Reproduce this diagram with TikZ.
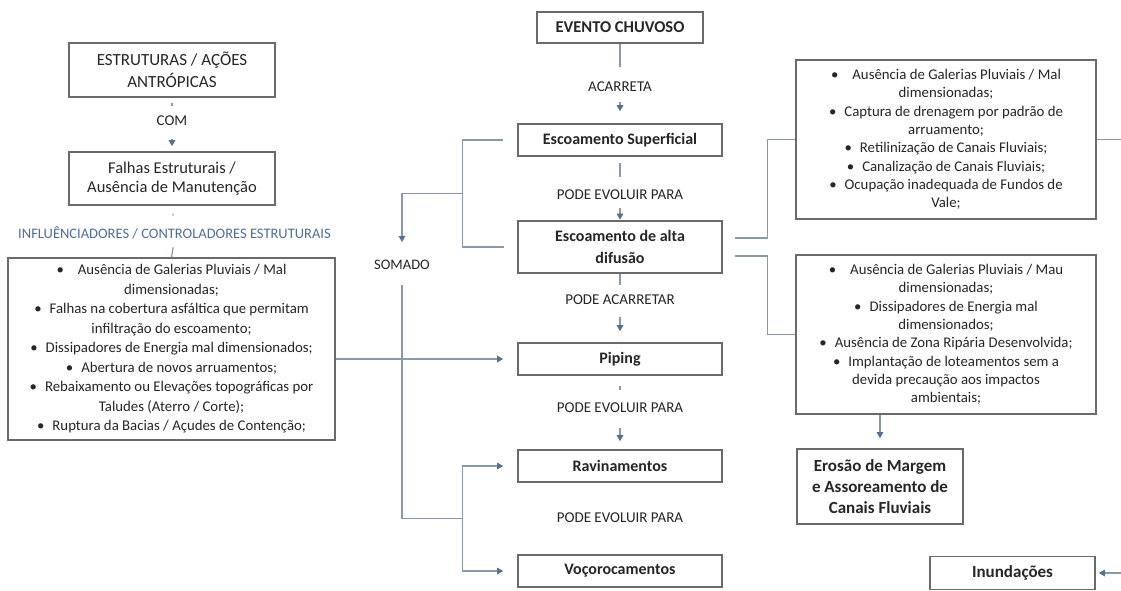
\documentclass[tikz,border=0pt]{standalone}
\usepackage{fontspec}
\setmainfont{Carlito}
\usetikzlibrary{calc,arrows.meta}
\definecolor{bordc}{HTML}{6A6A6A}
\definecolor{linec}{HTML}{8A99AA}
\definecolor{arrc}{HTML}{55718F}
\definecolor{txtc}{HTML}{262626}
\definecolor{bluec}{HTML}{4F6E9C}
\begin{document}
\begin{tikzpicture}[x=1pt,y=-1pt,
  box/.style={draw=bordc, line width=1.6pt, fill=white, inner sep=0pt, align=center, text=txtc},
  centerbox/.style={box, minimum width=204pt, minimum height=32pt, font=\fontsize{16}{22}\selectfont\bfseries},
  listbox/.style={box, minimum width=300pt, minimum height=159pt, font=\fontsize{14.8}{18.3}\selectfont},
  lab/.style={font=\fontsize{15}{17}\selectfont, text=txtc, inner sep=0pt},
  conn/.style={draw=linec, line width=1.2pt},
  arr/.style={conn, -{Triangle[length=6pt,width=6.5pt,color=arrc]}},
  barr/.style={conn, {Triangle[length=6pt,width=6.5pt,color=arrc]}-{Triangle[length=6pt,width=6.5pt,color=arrc]}},
]
\useasboundingbox[fill=white] (0,0) rectangle (1121,590);

% left column
\node[box, minimum width=206pt, minimum height=54pt, font=\fontsize{17}{22}\selectfont] (estr) at (172,70) {ESTRUTURAS / AÇÕES\\ANTRÓPICAS};
\node[box, minimum width=206pt, minimum height=53pt, font=\fontsize{16.5}{19}\selectfont] (falhas) at (172,178.5) {Falhas Estruturais /\\Ausência de Manutenção};
\node[lab] (com) at (172,121) {COM};
\node[lab, font=\fontsize{14.5}{17}\selectfont, text=bluec] (infl) at (174.5,233) {INFLUÊNCIADORES / CONTROLADORES ESTRUTURAIS};
\node[box, minimum width=327pt, minimum height=182pt, font=\fontsize{14.8}{19.5}\selectfont] (ll) at (171.5,349) {%
\textbullet\hspace{14pt}Ausência de Galerias Pluviais / Mal\\
dimensionadas;\\
\textbullet\hspace{8pt}Falhas na cobertura asfáltica que permitam\\
infiltração do escoamento;\\
\textbullet\hspace{8pt}Dissipadores de Energia mal dimensionados;\\
\textbullet\hspace{8pt}Abertura de novos arruamentos;\\
\textbullet\hspace{8pt}Rebaixamento ou Elevações topográficas por\\
Taludes (Aterro / Corte);\\
\textbullet\hspace{8pt}Ruptura da Bacias / Açudes de Contenção;};

% center column
\node[centerbox, minimum width=166pt, minimum height=31pt, font=\fontsize{16.5}{20}\selectfont\bfseries] (ev) at (620,27.5) {EVENTO CHUVOSO};
\node[centerbox] (es) at (620,140) {Escoamento Superficial};
\node[centerbox, minimum height=52pt] (ead) at (620,247) {Escoamento de alta\\difusão};
\node[centerbox] (pip) at (620,359) {Piping};
\node[centerbox] (rav) at (620,466) {Ravinamentos};
\node[centerbox] (voc) at (620,571) {Voçorocamentos};
\node[lab] (acar) at (620,87) {ACARRETA};
\node[lab] (pev1) at (620,195) {PODE EVOLUIR PARA};
\node[lab] (pac) at (620,300) {PODE ACARRETAR};
\node[lab] (pev2) at (620,408) {PODE EVOLUIR PARA};
\node[lab] (pev3) at (620,518) {PODE EVOLUIR PARA};
\node[lab, font=\fontsize{14.5}{17}\selectfont] (som) at (402,265) {SOMADO};

% right column
\node[listbox] (tr) at (946,139.5) {%
\textbullet\hspace{14pt}Ausência de Galerias Pluviais / Mal\\
dimensionadas;\\
\textbullet\hspace{8pt}Captura de drenagem por padrão de\\
arruamento;\\
\textbullet\hspace{8pt}Retilinização de Canais Fluviais;\\
\textbullet\hspace{8pt}Canalização de Canais Fluviais;\\
\textbullet\hspace{8pt}Ocupação inadequada de Fundos de\\
Vale;};
\node[listbox] (br) at (946,334.5) {%
\textbullet\hspace{14pt}Ausência de Galerias Pluviais / Mau\\
dimensionadas;\\
\textbullet\hspace{8pt}Dissipadores de Energia mal\\
dimensionados;\\
\textbullet\hspace{8pt}Ausência de Zona Ripária Desenvolvida;\\
\textbullet\hspace{8pt}Implantação de loteamentos sem a\\
devida precaução aos impactos\\
ambientais;};
\node[box, minimum width=166pt, minimum height=75pt, font=\fontsize{17}{20.7}\selectfont\bfseries] (eros) at (880,486.5) {Erosão de Margem\\e Assoreamento de\\Canais Fluviais};
\node[box, minimum width=165pt, minimum height=33pt, font=\fontsize{17}{20}\selectfont\bfseries] (inund) at (1012.5,573) {Inundações};

% connectors left
\draw[conn, shorten <=5pt, shorten >=10pt] (estr.south) -- (com.north);
\draw[arr, shorten <=13pt, shorten >=5pt] (com.south) -- (falhas.north);
\draw[conn, shorten <=8pt, shorten >=11pt] (falhas.south) -- (infl.north);
\draw[conn, shorten <=8pt] (infl.south) -- (ll.north);
\draw[arr, shorten >=14pt] (ll.east |- pip.west) -- (pip.west);

% connectors center
\draw[conn, shorten >=15pt] (ev.south) -- (acar.north);
\draw[arr, shorten <=10pt, shorten >=12pt] (acar.south) -- (es.north);
\draw[conn, shorten <=6pt, shorten >=13pt] (es.south) -- (pev1.north);
\draw[arr, shorten <=8pt, shorten >=0.5pt] (pev1.south) -- (ead.north);
\draw[conn, shorten >=10pt] (ead.south) -- (pac.north);
\draw[arr, shorten <=12pt, shorten >=11pt] (pac.south) -- (pip.north);
\draw[conn, shorten <=10pt, shorten >=13pt] (pip.south) -- (pev2.north);
\draw[arr, shorten <=15pt, shorten >=8pt] (pev2.south) -- (rav.north);

% SOMADO branch
\draw[conn, shorten <=14pt, shorten >=13pt] (es.west) -- ++(-55,0) |- (ead.west);
\coordinate (ja) at ($(es.west)!0.5!(ead.west)+(-55,0)$);
\draw[arr, shorten >=18pt] (ja) -| (som.north);
\coordinate (jb) at ($(rav.west)!0.5!(voc.west)+(-55,0)$);
\draw[conn, shorten <=15pt] (som.south) |- (jb);
\draw[barr, shorten <=14pt, shorten >=14pt] (rav.west) -- ++(-55,0) |- (voc.west);

% right connectors
\draw[conn, shorten <=12pt] ($(ead.east)+(0,-9)$) -- ++(45,0) |- (tr.west);
\draw[conn, shorten <=12pt] ($(ead.east)+(0,9)$) -- ++(45,0) |- (br.west);
\draw[arr, shorten >=10pt] (br.south -| eros.north) -- (eros.north);
\draw[arr, shorten >=3pt] (tr.east) -- ++(40,0) |- (inund.east);
\end{tikzpicture}
\end{document}
